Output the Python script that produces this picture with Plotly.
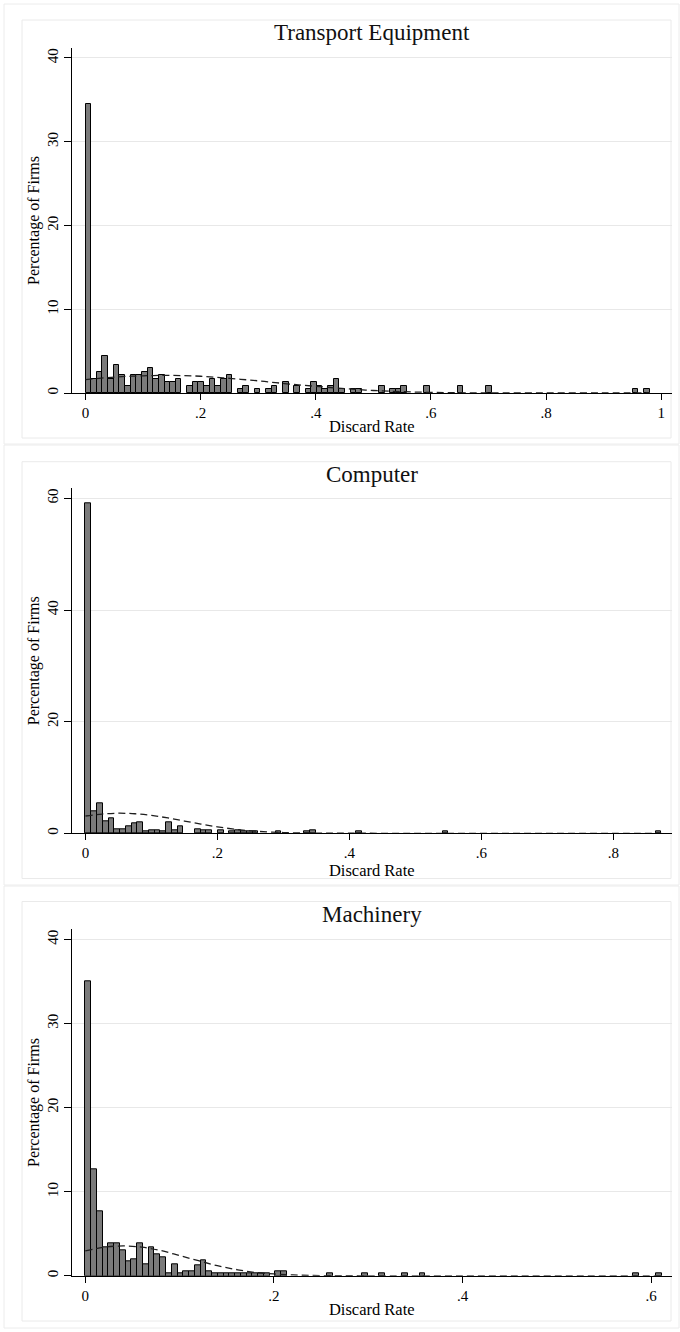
import plotly.graph_objects as go

W, H = 680, 1332

# ---------------- data ----------------
panel_titles = ["Transport Equipment", "Computer", "Machinery"]

# Transport Equipment: histogram bins of width 0.0098 (bin index -> percent)
transport_width = 0.0098
transport_bins = [0, 1, 2, 3, 4, 5, 6, 7, 8, 9, 10, 11, 12, 13, 14, 15, 16,
                  18, 19, 20, 21, 22, 23, 24, 25, 27, 28, 30, 32, 33, 35, 37,
                  39, 40, 41, 42, 43, 44, 45, 47, 48, 52, 54, 55, 56, 60, 66,
                  71, 97, 99]
transport_pct = [34.45, 1.68, 2.52, 4.4, 1.68, 3.36, 2.1, 0.84, 2.1, 2.1, 2.52,
                 2.94, 1.68, 2.1, 1.26, 1.26, 1.68,
                 0.84, 1.26, 1.26, 0.84, 1.68, 0.84, 1.68, 2.1, 0.42, 0.84,
                 0.42, 0.42, 0.84, 1.26, 0.84,
                 0.42, 1.26, 0.84, 0.42, 0.84, 1.68, 0.42, 0.42, 0.42, 0.84,
                 0.42, 0.42, 0.84, 0.84, 0.84,
                 0.84, 0.42, 0.42]
transport_curve_x = [0, 0.05, 0.1, 0.15, 0.2, 0.25, 0.3, 0.35, 0.4, 0.45, 0.5,
                     0.55, 0.6, 0.65, 0.7, 0.8, 0.9, 0.98]
transport_curve_y = [1.6, 1.9, 2.05, 2.1, 2.0, 1.75, 1.45, 1.1, 0.8, 0.52, 0.3,
                     0.16, 0.07, 0.03, 0.01, 0, 0, 0]

# Computer: bins of width 0.00873
computer_width = 0.00873
computer_bins = [0, 1, 2, 3, 4, 5, 6, 7, 8, 9, 10, 11, 12, 13, 14, 15, 16,
                 19, 20, 21, 23, 25, 26, 27, 28, 29, 33, 38, 39, 47, 62, 99]
computer_pct = [59.2, 3.9, 5.4, 2.1, 2.6, 0.8, 0.8, 1.2, 1.8, 2.0, 0.3, 0.6,
                0.6, 0.3, 2.0, 0.6, 1.2,
                0.8, 0.6, 0.5, 0.6, 0.3, 0.6, 0.3, 0.3, 0.3, 0.3, 0.3, 0.6,
                0.3, 0.3, 0.3]
computer_curve_x = [0, 0.025, 0.05, 0.075, 0.1, 0.125, 0.15, 0.175, 0.2, 0.225,
                    0.25, 0.275, 0.3, 0.35, 0.4, 0.5, 0.6, 0.7, 0.8, 0.873]
computer_curve_y = [3.1, 3.45, 3.6, 3.5, 3.2, 2.75, 2.2, 1.65, 1.15, 0.75,
                    0.45, 0.25, 0.13, 0.03, 0.01, 0, 0, 0, 0, 0]

# Machinery: bins of width 0.00611
machinery_width = 0.00611
machinery_bins = [0, 1, 2, 3, 4, 5, 6, 7, 8, 9, 10, 11, 12, 13, 14, 15, 16,
                  17, 18, 19, 20, 21, 22, 23, 24, 25, 26, 27, 28, 29, 30, 31,
                  33, 34, 42, 48, 51, 55, 58, 95, 99]
machinery_pct = [35.0, 12.66, 7.7, 3.36, 3.92, 3.92, 3.08, 1.68, 1.96, 3.92,
                 1.4, 3.36, 2.52, 2.24, 0.28, 1.4, 0.28,
                 0.56, 0.56, 1.3, 1.9, 0.56, 0.28, 0.28, 0.28, 0.28, 0.28,
                 0.28, 0.28, 0.28, 0.28, 0.28,
                 0.56, 0.56, 0.28, 0.28, 0.28, 0.28, 0.28, 0.28, 0.28]
machinery_curve_x = [0, 0.02, 0.04, 0.06, 0.08, 0.1, 0.12, 0.14, 0.16, 0.18,
                     0.2, 0.22, 0.25, 0.3, 0.4, 0.5, 0.611]
machinery_curve_y = [2.95, 3.4, 3.55, 3.4, 3.0, 2.4, 1.8, 1.2, 0.75, 0.4,
                     0.22, 0.1, 0.03, 0, 0, 0, 0]

transport_ticks = [0, 0.2, 0.4, 0.6, 0.8, 1.0]
transport_ticklabels = ["0", ".2", ".4", ".6", ".8", "1"]
computer_ticks = [0, 0.2, 0.4, 0.6, 0.8]
computer_ticklabels = ["0", ".2", ".4", ".6", ".8"]
machinery_ticks = [0, 0.2, 0.4, 0.6]
machinery_ticklabels = ["0", ".2", ".4", ".6"]

transport_yticks = [0, 10, 20, 30, 40]
computer_yticks = [0, 20, 40, 60]
machinery_yticks = [0, 10, 20, 30, 40]

x_title = "Discard Rate"
y_title = "Percentage of Firms"

# ---------------- layout geometry (pixels) ----------------
FONT = "Liberation Serif"
panels = [
    dict(width=transport_width, bins=transport_bins, pct=transport_pct,
         cx=transport_curve_x, cy=transport_curve_y,
         xt=transport_ticks, xtl=transport_ticklabels, yt=transport_yticks,
         xr=[-0.0235, 1.018], yr=[0, 41.19], top=48, bottom=393,
         outer=(4, 4, 679, 444), inner=(22, 20, 671, 438), title_y=33),
    dict(width=computer_width, bins=computer_bins, pct=computer_pct,
         cx=computer_curve_x, cy=computer_curve_y,
         xt=computer_ticks, xtl=computer_ticklabels, yt=computer_yticks,
         xr=[-0.02045, 0.8882], yr=[0, 61.8], top=488.3, bottom=833.3,
         outer=(4, 445, 679, 885), inner=(22, 461.7, 671, 878.5), title_y=474.5),
    dict(width=machinery_width, bins=machinery_bins, pct=machinery_pct,
         cx=machinery_curve_x, cy=machinery_curve_y,
         xt=machinery_ticks, xtl=machinery_ticklabels, yt=machinery_yticks,
         xr=[-0.01409, 0.6215], yr=[0, 41.2], top=929.3, bottom=1275.8,
         outer=(4, 886, 679, 1328), inner=(22, 901.5, 671, 1321), title_y=914),
]

X0, X1 = 72, 671.5


def px(x):
    return x / W


def py(y):
    return 1 - y / H


fig = go.Figure()
shapes = []
annotations = []

for i, p in enumerate(panels):
    n = "" if i == 0 else str(i + 1)
    xa, ya = "x" + n, "y" + n
    w = p["width"]
    centers = [(b + 0.5) * w for b in p["bins"]]
    fig.add_trace(go.Bar(
        x=centers, y=p["pct"], width=w, xaxis=xa, yaxis=ya,
        marker=dict(color="#7a7a7a", line=dict(color="#000000", width=1)),
        showlegend=False, hoverinfo="skip"))
    fig.add_trace(go.Scatter(
        x=p["cx"], y=p["cy"], mode="lines", xaxis=xa, yaxis=ya,
        line=dict(color="#1e1e1e", width=1.3, dash="7px,4px", shape="spline"),
        showlegend=False, hoverinfo="skip"))

    axis_font = dict(family=FONT, size=15, color="#000000")
    fig.layout["xaxis" + n] = dict(
        domain=[px(X0), px(X1)], range=p["xr"], anchor=ya,
        showline=True, linecolor="#000000", linewidth=1,
        ticks="outside", ticklen=6, tickcolor="#000000", tickwidth=1,
        tickvals=p["xt"], ticktext=p["xtl"], tickfont=axis_font,
        showgrid=False, zeroline=False, fixedrange=True,
        title=dict(text=x_title, font=dict(family=FONT, size=16.5, color="#000000"),
                   standoff=0))
    fig.layout["yaxis" + n] = dict(
        domain=[py(p["bottom"]), py(p["top"])], range=p["yr"], anchor=xa,
        showline=True, linecolor="#000000", linewidth=1,
        ticks="outside", ticklen=7, tickcolor="#000000", tickwidth=1,
        tickvals=p["yt"], tickangle=-90, tickfont=axis_font,
        showgrid=True, gridcolor="#e8e8e8", gridwidth=1, zeroline=False,
        fixedrange=True,
        title=dict(text=y_title, font=dict(family=FONT, size=16, color="#000000"),
                   standoff=1))

    ox0, oy0, ox1, oy1 = p["outer"]
    shapes.append(dict(type="rect", xref="paper", yref="paper",
                       x0=px(ox0), x1=px(ox1), y0=py(oy1), y1=py(oy0),
                       line=dict(color="#ececec", width=1), layer="below"))
    ix0, iy0, ix1, iy1 = p["inner"]
    shapes.append(dict(type="rect", xref="paper", yref="paper",
                       x0=px(ix0), x1=px(ix1), y0=py(iy1), y1=py(iy0),
                       line=dict(color="#eaeaea", width=1), layer="below"))
    annotations.append(dict(text=panel_titles[i], xref="paper", yref="paper",
                            x=px((X0 + X1) / 2), y=py(p["title_y"]),
                            xanchor="center", yanchor="middle", showarrow=False,
                            font=dict(family=FONT, size=23, color="#111111")))

fig.update_layout(
    template="none",
    width=W, height=H, autosize=False,
    margin=dict(l=0, r=0, t=0, b=0, pad=0),
    paper_bgcolor="#ffffff", plot_bgcolor="rgba(0,0,0,0)",
    bargap=0, barmode="overlay",
    shapes=shapes, annotations=annotations,
    font=dict(family=FONT, color="#000000"),
)

fig.write_html(
    "out.html",
    config={"displayModeBar": False},
    post_script="document.body.style.margin='0';document.body.style.padding='0';",
)
